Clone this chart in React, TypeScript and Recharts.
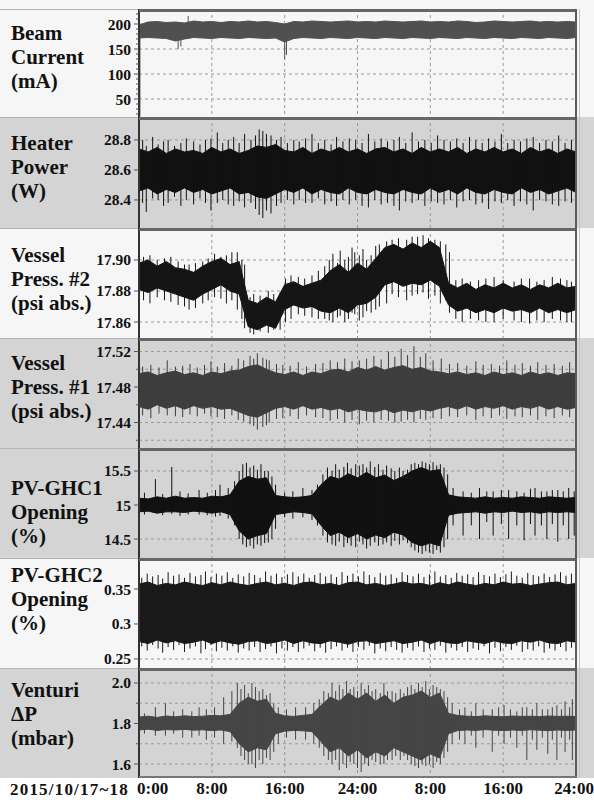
import React from 'react';
import { ComposedChart, Area, Line, XAxis, YAxis, CartesianGrid } from 'recharts';

const FONT = '"Liberation Serif", "Times New Roman", serif';
const LIGHT = '#f6f6f6';
const GRAY = '#d4d4d4';

// time axis (hours since 2015/10/17 0:00)
const hours = [
  0, 1, 2, 3, 4, 5, 6, 7, 8, 9, 10, 11, 12, 13, 14, 15, 16, 17, 18, 19, 20, 21, 22, 23, 24,
  25, 26, 27, 28, 29, 30, 31, 32, 33, 34, 35, 36, 37, 38, 39, 40, 41, 42, 43, 44, 45, 46, 47, 48,
];
const timeTicks = [0, 8, 16, 24, 32, 40, 48];
const timeLabels = ['0:00', '8:00', '16:00', '24:00', '8:00', '16:00', '24:00'];
const dateLabel = '2015/10/17~18';

// Beam current (mA)
const beamHi = [198, 204, 205, 203, 204, 202, 206, 204, 205, 203, 205, 204, 206, 204, 205, 203, 200, 205, 204, 206, 205, 204, 205, 206, 204, 205, 204, 206, 205, 204, 205, 206, 204, 205, 204, 206, 205, 203, 204, 206, 205, 204, 205, 206, 204, 205, 204, 205, 204];
const beamLo = [172, 173, 172, 171, 166, 170, 173, 172, 171, 173, 172, 171, 173, 172, 171, 172, 164, 171, 173, 172, 171, 173, 172, 171, 173, 172, 171, 173, 172, 171, 173, 172, 171, 173, 172, 171, 173, 172, 171, 173, 172, 171, 173, 172, 171, 173, 172, 171, 173];
const beamSpikes = [[0.1, 15, 188], [4.3, 150, 196], [4.6, 155, 190], [5.4, 176, 216], [16.0, 130, 196], [16.2, 138, 190]];
const beamTicks = [20, 30, 40, 50, 60, 70, 80, 90, 100, 110, 120, 130, 140, 150, 160, 170, 180, 190, 200, 210, 220];
const beamTickLabels = ['', '', '', '50', '', '', '', '', '100', '', '', '', '', '150', '', '', '', '', '200', '', ''];
const beamGrid = [50, 100, 150, 200];

// Heater power (W)
const heatHi = [28.74, 28.72, 28.75, 28.71, 28.74, 28.72, 28.73, 28.71, 28.75, 28.72, 28.74, 28.71, 28.73, 28.76, 28.75, 28.77, 28.73, 28.72, 28.75, 28.71, 28.74, 28.72, 28.75, 28.72, 28.74, 28.71, 28.74, 28.75, 28.72, 28.74, 28.71, 28.75, 28.72, 28.74, 28.72, 28.75, 28.71, 28.74, 28.72, 28.75, 28.72, 28.74, 28.71, 28.75, 28.72, 28.74, 28.71, 28.74, 28.72];
const heatLo = [28.46, 28.48, 28.44, 28.47, 28.45, 28.48, 28.45, 28.47, 28.44, 28.46, 28.48, 28.44, 28.45, 28.42, 28.41, 28.44, 28.47, 28.45, 28.48, 28.44, 28.47, 28.45, 28.44, 28.48, 28.45, 28.44, 28.47, 28.45, 28.44, 28.47, 28.45, 28.44, 28.48, 28.45, 28.47, 28.44, 28.48, 28.45, 28.44, 28.47, 28.45, 28.44, 28.48, 28.45, 28.47, 28.44, 28.46, 28.48, 28.45];
const heatSpikes = [
  [0.4, 28.38, 28.8], [0.8, 28.32, 28.76], [1.5, 28.41, 28.82], [2.1, 28.4, 28.77], [2.7, 28.36, 28.79],
  [3.2, 28.38, 28.8], [3.9, 28.42, 28.76], [4.6, 28.36, 28.78], [5.2, 28.4, 28.81], [6.0, 28.37, 28.79],
  [6.7, 28.41, 28.77], [7.3, 28.38, 28.8], [7.9, 28.33, 28.81], [8.6, 28.38, 28.85], [9.2, 28.4, 28.78],
  [9.8, 28.37, 28.8], [10.4, 28.36, 28.82], [11.0, 28.39, 28.78], [11.6, 28.35, 28.84], [12.3, 28.38, 28.8],
  [12.8, 28.34, 28.83], [13.2, 28.3, 28.87], [13.6, 28.28, 28.86], [14.0, 28.33, 28.84], [14.5, 28.31, 28.83],
  [15.1, 28.36, 28.8], [15.6, 28.38, 28.82], [16.3, 28.4, 28.78], [17.0, 28.37, 28.8], [17.6, 28.4, 28.79],
  [18.3, 28.38, 28.81], [19.0, 28.38, 28.84], [19.7, 28.41, 28.78], [20.4, 28.37, 28.8], [21.1, 28.39, 28.77],
  [21.7, 28.36, 28.82], [22.4, 28.4, 28.79], [23.1, 28.37, 28.81], [23.8, 28.4, 28.8], [24.5, 28.36, 28.78],
  [25.2, 28.35, 28.84], [25.9, 28.4, 28.79], [26.6, 28.37, 28.81], [27.3, 28.38, 28.79], [28.0, 28.36, 28.8],
  [28.6, 28.33, 28.82], [29.3, 28.39, 28.78], [30.0, 28.38, 28.85], [30.7, 28.4, 28.79], [31.4, 28.36, 28.8],
  [32.1, 28.39, 28.78], [32.8, 28.38, 28.83], [33.5, 28.37, 28.8], [34.2, 28.4, 28.79], [34.9, 28.35, 28.81],
  [35.6, 28.39, 28.78], [36.3, 28.4, 28.82], [37.0, 28.37, 28.8], [37.7, 28.38, 28.78], [38.4, 28.34, 28.81],
  [39.1, 28.39, 28.79], [39.8, 28.38, 28.84], [40.5, 28.4, 28.78], [41.2, 28.36, 28.8], [41.9, 28.39, 28.79],
  [42.6, 28.37, 28.81], [43.3, 28.33, 28.82], [44.0, 28.4, 28.78], [44.7, 28.39, 28.8], [45.4, 28.37, 28.79],
  [46.1, 28.36, 28.83], [46.8, 28.39, 28.78], [47.5, 28.38, 28.8],
];
const heatTicks = [28.4, 28.6, 28.8];
const heatTickLabels = ['28.4', '28.6', '28.8'];
const heatGrid = [28.4, 28.6, 28.8];

// Vessel pressure #2 (psi abs.)
const v2Hi = [17.898, 17.900, 17.896, 17.899, 17.895, 17.894, 17.892, 17.896, 17.899, 17.901, 17.897, 17.899, 17.874, 17.872, 17.876, 17.873, 17.884, 17.886, 17.883, 17.885, 17.887, 17.893, 17.897, 17.892, 17.898, 17.894, 17.901, 17.908, 17.91, 17.907, 17.911, 17.908, 17.912, 17.908, 17.885, 17.882, 17.885, 17.881, 17.884, 17.882, 17.885, 17.882, 17.884, 17.881, 17.884, 17.882, 17.885, 17.882, 17.883];
const v2Lo = [17.881, 17.879, 17.882, 17.88, 17.878, 17.876, 17.874, 17.878, 17.881, 17.884, 17.88, 17.878, 17.857, 17.855, 17.858, 17.856, 17.868, 17.871, 17.869, 17.87, 17.867, 17.866, 17.869, 17.866, 17.871, 17.872, 17.876, 17.884, 17.886, 17.883, 17.885, 17.884, 17.887, 17.883, 17.871, 17.867, 17.869, 17.866, 17.868, 17.866, 17.869, 17.867, 17.868, 17.866, 17.869, 17.866, 17.868, 17.866, 17.868];
const v2Spikes = [
  [0.5, 17.874, 17.902], [1.2, 17.872, 17.903], [2.0, 17.876, 17.9], [2.8, 17.874, 17.901], [3.5, 17.873, 17.902],
  [4.3, 17.871, 17.899], [5.0, 17.87, 17.897], [5.5, 17.868, 17.897], [6.2, 17.869, 17.898], [7.0, 17.872, 17.899],
  [7.6, 17.874, 17.901], [8.3, 17.876, 17.904], [9.0, 17.875, 17.902], [9.6, 17.872, 17.903], [10.2, 17.874, 17.905],
  [10.8, 17.868, 17.905], [11.3, 17.862, 17.9], [11.6, 17.856, 17.897], [12.2, 17.853, 17.876], [12.6, 17.852, 17.878],
  [13.3, 17.854, 17.877], [14.2, 17.853, 17.88], [14.8, 17.855, 17.878], [15.5, 17.855, 17.879], [16.1, 17.86, 17.888],
  [16.7, 17.862, 17.89], [17.5, 17.865, 17.889], [18.2, 17.864, 17.888], [19.0, 17.863, 17.89], [19.7, 17.862, 17.893],
  [20.4, 17.862, 17.896], [20.9, 17.861, 17.9], [21.3, 17.86, 17.904], [21.8, 17.863, 17.898], [22.1, 17.864, 17.906],
  [22.6, 17.86, 17.9], [23.0, 17.862, 17.902], [23.4, 17.866, 17.908], [23.7, 17.865, 17.905], [24.2, 17.861, 17.903],
  [24.6, 17.863, 17.907], [25.0, 17.867, 17.9], [25.5, 17.866, 17.903], [26.0, 17.868, 17.909], [26.4, 17.87, 17.91],
  [27.2, 17.872, 17.912], [27.8, 17.878, 17.913], [28.5, 17.876, 17.914], [29.4, 17.874, 17.913], [30.0, 17.877, 17.915],
  [30.6, 17.878, 17.915], [31.2, 17.879, 17.916], [31.8, 17.875, 17.914], [32.5, 17.877, 17.913], [33.1, 17.872, 17.912],
  [33.7, 17.874, 17.91], [34.1, 17.866, 17.905], [34.8, 17.862, 17.887], [35.5, 17.86, 17.888], [36.4, 17.862, 17.886],
  [37.3, 17.861, 17.887], [38.1, 17.86, 17.888], [39.0, 17.86, 17.889], [40.0, 17.862, 17.887], [41.2, 17.861, 17.886],
  [42.0, 17.86, 17.888], [42.9, 17.859, 17.888], [43.7, 17.861, 17.886], [44.5, 17.86, 17.887], [45.4, 17.862, 17.889],
  [46.3, 17.861, 17.888], [47.0, 17.86, 17.887], [47.5, 17.86, 17.886],
];
const v2Ticks = [17.86, 17.88, 17.9];
const v2TickLabels = ['17.86', '17.88', '17.90'];
const v2Grid = [17.86, 17.88, 17.9];

// Vessel pressure #1 (psi abs.)
const v1Hi = [17.495, 17.497, 17.493, 17.496, 17.498, 17.494, 17.496, 17.493, 17.497, 17.495, 17.498, 17.499, 17.503, 17.505, 17.5, 17.496, 17.494, 17.497, 17.493, 17.497, 17.495, 17.499, 17.5, 17.497, 17.502, 17.499, 17.503, 17.499, 17.502, 17.504, 17.5, 17.502, 17.498, 17.497, 17.495, 17.497, 17.494, 17.496, 17.493, 17.497, 17.494, 17.496, 17.493, 17.497, 17.494, 17.496, 17.493, 17.496, 17.495];
const v1Lo = [17.458, 17.455, 17.46, 17.456, 17.459, 17.455, 17.459, 17.456, 17.458, 17.455, 17.456, 17.452, 17.448, 17.446, 17.451, 17.456, 17.458, 17.455, 17.459, 17.455, 17.457, 17.454, 17.456, 17.452, 17.455, 17.453, 17.452, 17.455, 17.451, 17.454, 17.452, 17.455, 17.453, 17.456, 17.458, 17.455, 17.459, 17.455, 17.458, 17.456, 17.459, 17.455, 17.458, 17.456, 17.459, 17.455, 17.458, 17.455, 17.457];
const v1Spikes = [
  [0.4, 17.448, 17.503], [1.3, 17.445, 17.505], [2.2, 17.45, 17.502], [3.1, 17.448, 17.51], [4.0, 17.447, 17.503],
  [4.8, 17.446, 17.504], [5.6, 17.449, 17.506], [6.4, 17.447, 17.502], [7.2, 17.45, 17.505], [7.9, 17.447, 17.509],
  [8.6, 17.446, 17.503], [9.4, 17.444, 17.507], [10.2, 17.448, 17.504], [10.9, 17.443, 17.512], [11.5, 17.441, 17.51],
  [12.2, 17.438, 17.515], [12.6, 17.436, 17.512], [13.0, 17.432, 17.518], [13.6, 17.435, 17.513], [14.0, 17.437, 17.511],
  [14.3, 17.44, 17.51], [15.1, 17.444, 17.506], [15.8, 17.445, 17.505], [16.6, 17.447, 17.504], [17.5, 17.444, 17.508],
  [18.4, 17.448, 17.503], [19.4, 17.446, 17.506], [20.2, 17.445, 17.507], [21.0, 17.442, 17.51], [21.8, 17.444, 17.508],
  [22.6, 17.44, 17.512], [23.4, 17.443, 17.509], [24.2, 17.438, 17.51], [25.0, 17.442, 17.512], [25.8, 17.44, 17.515],
  [26.6, 17.443, 17.511], [27.4, 17.442, 17.52], [28.1, 17.44, 17.514], [28.8, 17.441, 17.523], [29.5, 17.443, 17.516],
  [30.2, 17.44, 17.526], [30.9, 17.444, 17.514], [31.5, 17.443, 17.518], [32.3, 17.445, 17.51], [33.2, 17.444, 17.512],
  [34.1, 17.447, 17.506], [35.0, 17.446, 17.507], [36.0, 17.448, 17.504], [37.0, 17.443, 17.509], [37.8, 17.447, 17.505],
  [38.7, 17.445, 17.506], [39.6, 17.448, 17.504], [40.4, 17.444, 17.51], [41.3, 17.447, 17.505], [42.1, 17.446, 17.507],
  [43.0, 17.448, 17.504], [43.8, 17.443, 17.508], [44.7, 17.447, 17.505], [45.6, 17.445, 17.506], [46.5, 17.448, 17.504],
  [47.3, 17.446, 17.508],
];
const v1Ticks = [17.42, 17.44, 17.46, 17.48, 17.5, 17.52];
const v1TickLabels = ['', '17.44', '', '17.48', '', '17.52'];
const v1Grid = [17.42, 17.44, 17.46, 17.48, 17.5, 17.52];

// PV-GHC1 opening (%)
const g1Hi = [15.1, 15.09, 15.12, 15.1, 15.13, 15.1, 15.11, 15.1, 15.13, 15.12, 15.15, 15.35, 15.42, 15.38, 15.4, 15.14, 15.12, 15.11, 15.12, 15.14, 15.3, 15.42, 15.38, 15.46, 15.4, 15.48, 15.4, 15.44, 15.36, 15.42, 15.5, 15.55, 15.5, 15.52, 15.15, 15.12, 15.11, 15.1, 15.12, 15.1, 15.11, 15.1, 15.12, 15.11, 15.1, 15.12, 15.11, 15.1, 15.11];
const g1Lo = [14.9, 14.91, 14.88, 14.9, 14.9, 14.89, 14.91, 14.9, 14.88, 14.9, 14.86, 14.62, 14.5, 14.55, 14.58, 14.86, 14.88, 14.9, 14.89, 14.87, 14.7, 14.55, 14.6, 14.52, 14.58, 14.5, 14.56, 14.52, 14.6, 14.56, 14.45, 14.4, 14.44, 14.4, 14.85, 14.88, 14.89, 14.9, 14.88, 14.9, 14.89, 14.91, 14.89, 14.9, 14.88, 14.9, 14.89, 14.9, 14.89];
const g1Spikes = [
  [0.6, 14.86, 15.18], [1.8, 14.88, 15.38], [2.6, 14.85, 15.16], [3.6, 14.87, 15.56], [4.5, 14.84, 15.2],
  [5.4, 14.86, 15.17], [6.6, 14.86, 15.22], [7.5, 14.85, 15.18], [8.4, 14.83, 15.22], [8.9, 14.84, 15.3],
  [9.8, 14.8, 15.25], [10.5, 14.7, 15.35], [11.0, 14.5, 15.5], [11.4, 14.42, 15.6], [11.8, 14.38, 15.62],
  [12.2, 14.4, 15.55], [12.6, 14.36, 15.58], [13.0, 14.42, 15.52], [13.4, 14.4, 15.6], [13.8, 14.44, 15.5],
  [14.2, 14.45, 15.5], [14.6, 14.5, 15.42], [15.0, 14.65, 15.3], [16.0, 14.82, 15.18], [16.9, 14.8, 15.2],
  [18.0, 14.82, 15.25], [19.0, 14.78, 15.22], [19.6, 14.7, 15.3], [20.2, 14.55, 15.45], [20.7, 14.45, 15.55],
  [21.2, 14.42, 15.5], [21.6, 14.4, 15.6], [22.0, 14.46, 15.52], [22.5, 14.38, 15.56], [22.9, 14.44, 15.62],
  [23.3, 14.4, 15.54], [23.8, 14.38, 15.6], [24.2, 14.46, 15.58], [24.6, 14.42, 15.6], [25.0, 14.36, 15.55],
  [25.4, 14.4, 15.64], [25.9, 14.45, 15.56], [26.3, 14.4, 15.6], [26.8, 14.42, 15.52], [27.2, 14.45, 15.58],
  [27.7, 14.4, 15.54], [28.1, 14.47, 15.5], [28.6, 14.42, 15.55], [29.0, 14.48, 15.5], [29.5, 14.44, 15.52],
  [29.9, 14.38, 15.6], [30.3, 14.33, 15.62], [30.7, 14.3, 15.6], [31.1, 14.28, 15.64], [31.5, 14.32, 15.62],
  [31.9, 14.3, 15.6], [32.3, 14.28, 15.63], [32.7, 14.34, 15.58], [33.1, 14.3, 15.6], [33.5, 14.38, 15.55],
  [33.9, 14.5, 15.45], [34.5, 14.7, 15.25], [35.6, 14.55, 15.2], [36.5, 14.7, 15.18], [37.4, 14.5, 15.25],
  [38.2, 14.75, 15.2], [38.9, 14.55, 15.2], [39.8, 14.72, 15.22], [40.6, 14.5, 15.22], [41.5, 14.7, 15.2],
  [42.3, 14.48, 15.18], [43.0, 14.72, 15.24], [43.5, 14.55, 15.25], [44.2, 14.7, 15.2], [44.8, 14.5, 15.2],
  [45.4, 14.72, 15.22], [46.0, 14.46, 15.22], [46.6, 14.7, 15.2], [47.2, 14.5, 15.25], [47.8, 14.55, 15.2],
];
const g1Ticks = [14.5, 15, 15.5];
const g1TickLabels = ['14.5', '15', '15.5'];
const g1Grid = [14.5, 15, 15.5];

// PV-GHC2 opening (%)
const g2Hi = [0.357, 0.36, 0.355, 0.358, 0.356, 0.36, 0.357, 0.355, 0.359, 0.356, 0.36, 0.357, 0.355, 0.358, 0.36, 0.356, 0.358, 0.355, 0.359, 0.36, 0.356, 0.358, 0.355, 0.359, 0.36, 0.356, 0.358, 0.355, 0.357, 0.36, 0.357, 0.358, 0.355, 0.359, 0.356, 0.36, 0.357, 0.355, 0.358, 0.356, 0.36, 0.357, 0.358, 0.355, 0.357, 0.359, 0.36, 0.356, 0.358];
const g2Lo = [0.275, 0.272, 0.277, 0.273, 0.276, 0.272, 0.274, 0.277, 0.272, 0.276, 0.273, 0.271, 0.275, 0.276, 0.272, 0.274, 0.277, 0.272, 0.276, 0.273, 0.272, 0.276, 0.274, 0.271, 0.275, 0.276, 0.272, 0.274, 0.276, 0.272, 0.274, 0.277, 0.272, 0.276, 0.273, 0.272, 0.276, 0.274, 0.272, 0.276, 0.273, 0.272, 0.276, 0.274, 0.277, 0.273, 0.272, 0.276, 0.274];
const g2Spikes = [
  [0.3, 0.268, 0.366], [0.9, 0.262, 0.372], [1.5, 0.27, 0.368], [2.1, 0.265, 0.37], [2.6, 0.259, 0.365],
  [3.2, 0.267, 0.374], [3.8, 0.263, 0.369], [4.4, 0.27, 0.371], [5.0, 0.26, 0.366], [5.6, 0.265, 0.373],
  [6.2, 0.268, 0.368], [6.8, 0.258, 0.37], [7.3, 0.264, 0.375], [7.9, 0.27, 0.367], [8.5, 0.261, 0.372],
  [9.1, 0.266, 0.369], [9.7, 0.262, 0.374], [10.3, 0.268, 0.366], [10.9, 0.259, 0.371], [11.5, 0.265, 0.368],
  [12.1, 0.262, 0.373], [12.7, 0.267, 0.37], [13.3, 0.26, 0.366], [13.9, 0.264, 0.375], [14.5, 0.268, 0.369],
  [15.1, 0.258, 0.372], [15.7, 0.265, 0.367], [16.3, 0.262, 0.371], [16.9, 0.267, 0.374], [17.5, 0.26, 0.368],
  [18.1, 0.265, 0.372], [18.7, 0.269, 0.366], [19.3, 0.261, 0.37], [19.9, 0.266, 0.373], [20.5, 0.259, 0.368],
  [21.1, 0.264, 0.371], [21.7, 0.268, 0.367], [22.3, 0.262, 0.374], [22.9, 0.266, 0.369], [23.5, 0.26, 0.372],
  [24.1, 0.267, 0.368], [24.7, 0.263, 0.375], [25.3, 0.269, 0.37], [25.9, 0.258, 0.367], [26.5, 0.265, 0.373],
  [27.1, 0.261, 0.369], [27.7, 0.267, 0.371], [28.3, 0.263, 0.366], [28.9, 0.259, 0.374], [29.5, 0.266, 0.37],
  [30.1, 0.262, 0.368], [30.7, 0.268, 0.372], [31.3, 0.26, 0.367], [31.9, 0.265, 0.371], [32.5, 0.263, 0.375],
  [33.1, 0.269, 0.368], [33.7, 0.259, 0.37], [34.3, 0.266, 0.366], [34.9, 0.262, 0.373], [35.5, 0.267, 0.369],
  [36.1, 0.26, 0.371], [36.7, 0.265, 0.367], [37.3, 0.263, 0.374], [37.9, 0.268, 0.37], [38.5, 0.258, 0.368],
  [39.1, 0.266, 0.372], [39.7, 0.261, 0.367], [40.3, 0.267, 0.371], [40.9, 0.263, 0.375], [41.5, 0.269, 0.369],
  [42.1, 0.26, 0.366], [42.7, 0.264, 0.373], [43.3, 0.262, 0.37], [43.9, 0.268, 0.368], [44.5, 0.259, 0.372],
  [45.1, 0.265, 0.367], [45.7, 0.262, 0.371], [46.3, 0.267, 0.374], [46.9, 0.261, 0.369], [47.5, 0.266, 0.372],
];
const g2Ticks = [0.25, 0.3, 0.35];
const g2TickLabels = ['0.25', '0.3', '0.35'];
const g2Grid = [0.25, 0.3, 0.35];

// Venturi dP (mbar)
const vtHi = [1.832, 1.836, 1.83, 1.837, 1.833, 1.838, 1.834, 1.836, 1.84, 1.838, 1.845, 1.9, 1.93, 1.91, 1.92, 1.85, 1.838, 1.835, 1.84, 1.845, 1.89, 1.93, 1.91, 1.95, 1.92, 1.95, 1.91, 1.94, 1.9, 1.93, 1.94, 1.96, 1.93, 1.95, 1.85, 1.84, 1.836, 1.834, 1.838, 1.835, 1.833, 1.837, 1.835, 1.836, 1.834, 1.837, 1.835, 1.836, 1.834];
const vtLo = [1.768, 1.772, 1.766, 1.77, 1.768, 1.771, 1.767, 1.769, 1.765, 1.768, 1.76, 1.7, 1.66, 1.68, 1.67, 1.75, 1.762, 1.766, 1.764, 1.76, 1.71, 1.66, 1.68, 1.64, 1.67, 1.63, 1.66, 1.64, 1.68, 1.66, 1.64, 1.62, 1.65, 1.63, 1.75, 1.765, 1.768, 1.766, 1.77, 1.767, 1.765, 1.768, 1.766, 1.769, 1.767, 1.765, 1.768, 1.766, 1.768];
const vtSpikes = [
  [0.6, 1.75, 1.85], [1.8, 1.74, 1.88], [2.9, 1.74, 1.9], [3.8, 1.75, 1.86], [4.8, 1.73, 1.87],
  [5.8, 1.73, 1.86], [6.6, 1.74, 1.88], [7.4, 1.72, 1.87], [8.3, 1.73, 1.88], [9.3, 1.7, 1.93],
  [10.2, 1.71, 1.96], [10.8, 1.68, 2.0], [11.2, 1.64, 1.97], [11.6, 1.62, 1.99], [12.0, 1.6, 1.95],
  [12.4, 1.6, 2.0], [12.8, 1.58, 1.98], [13.2, 1.62, 1.96], [13.6, 1.6, 1.97], [14.0, 1.63, 1.94],
  [14.4, 1.62, 1.95], [14.8, 1.66, 1.9], [15.3, 1.7, 1.88], [16.2, 1.73, 1.87], [17.2, 1.72, 1.88],
  [18.3, 1.72, 1.88], [19.2, 1.7, 1.9], [19.8, 1.68, 1.92], [20.3, 1.64, 1.96], [20.8, 1.62, 1.95],
  [21.2, 1.6, 2.0], [21.6, 1.62, 1.96], [22.0, 1.57, 1.99], [22.4, 1.6, 1.97], [22.8, 1.58, 2.01],
  [23.2, 1.61, 1.97], [23.6, 1.6, 1.98], [24.0, 1.58, 1.96], [24.4, 1.56, 2.0], [24.8, 1.6, 1.97],
  [25.2, 1.59, 1.99], [25.6, 1.62, 1.96], [26.0, 1.61, 1.97], [26.5, 1.6, 1.95], [26.9, 1.6, 2.0],
  [27.3, 1.62, 1.96], [27.8, 1.62, 1.96], [28.2, 1.64, 1.95], [28.7, 1.62, 1.97], [29.1, 1.64, 1.95],
  [29.5, 1.62, 1.98], [29.9, 1.6, 1.99], [30.3, 1.59, 1.97], [30.7, 1.58, 2.0], [31.1, 1.6, 1.98],
  [31.5, 1.59, 2.01], [31.9, 1.6, 1.97], [32.3, 1.58, 1.99], [32.7, 1.61, 1.98], [33.1, 1.6, 1.97],
  [33.5, 1.63, 1.96], [33.9, 1.66, 1.93], [34.4, 1.7, 1.9], [35.2, 1.72, 1.87], [35.8, 1.7, 1.88],
  [36.5, 1.74, 1.86], [37.0, 1.68, 1.9], [37.8, 1.73, 1.87], [38.8, 1.66, 1.87], [39.5, 1.74, 1.88],
  [40.1, 1.7, 1.89], [40.8, 1.73, 1.87], [41.5, 1.68, 1.86], [42.1, 1.74, 1.88], [42.6, 1.62, 1.88],
  [43.2, 1.72, 1.87], [43.7, 1.67, 1.9], [44.3, 1.73, 1.87], [44.9, 1.65, 1.87], [45.4, 1.72, 1.88],
  [45.9, 1.62, 1.89], [46.4, 1.73, 1.87], [46.8, 1.66, 1.91], [47.3, 1.72, 1.88], [47.6, 1.62, 1.92],
];
const vtTicks = [1.6, 1.7, 1.8, 1.9, 2.0];
const vtTickLabels = ['1.6', '', '1.8', '', '2.0'];
const vtGrid = [1.6, 1.7, 1.8, 1.9, 2.0];

const panels = [
  { lines: ['Beam', 'Current', '(mA)'], top: 9, height: 108, labelTop: 12, bg: LIGHT, color: '#505050',
    domain: [14, 230], ticks: beamTicks, tickLabels: beamTickLabels, grid: beamGrid, hi: beamHi, lo: beamLo, spikes: beamSpikes },
  { lines: ['Heater', 'Power', '(W)'], top: 117, height: 111, labelTop: 14, bg: GRAY, color: '#111',
    domain: [28.213, 28.953], ticks: heatTicks, tickLabels: heatTickLabels, grid: heatGrid, hi: heatHi, lo: heatLo, spikes: heatSpikes },
  { lines: ['Vessel', 'Press. #2', '(psi abs.)'], top: 228, height: 110, labelTop: 15, bg: LIGHT, color: '#151515',
    domain: [17.8497, 17.9206], ticks: v2Ticks, tickLabels: v2TickLabels, grid: v2Grid, hi: v2Hi, lo: v2Lo, spikes: v2Spikes },
  { lines: ['Vessel', 'Press. #1', '(psi abs.)'], top: 338, height: 110, labelTop: 13, bg: GRAY, color: '#3e3e3e',
    domain: [17.4113, 17.5352], ticks: v1Ticks, tickLabels: v1TickLabels, grid: v1Grid, hi: v1Hi, lo: v1Lo, spikes: v1Spikes },
  { lines: ['PV-GHC1', 'Opening', '(%)'], top: 448, height: 110, labelTop: 28, bg: GRAY, color: '#111',
    domain: [14.221, 15.838], ticks: g1Ticks, tickLabels: g1TickLabels, grid: g1Grid, hi: g1Hi, lo: g1Lo, spikes: g1Spikes },
  { lines: ['PV-GHC2', 'Opening', '(%)'], top: 558, height: 110, labelTop: 5, bg: LIGHT, color: '#1a1a1a',
    domain: [0.2371, 0.3943], ticks: g2Ticks, tickLabels: g2TickLabels, grid: g2Grid, hi: g2Hi, lo: g2Lo, spikes: g2Spikes },
  { lines: ['Venturi', '\u0394P', '(mbar)'], top: 668, height: 110, labelTop: 10, bg: GRAY, color: '#454545',
    domain: [1.531, 2.074], ticks: vtTicks, tickLabels: vtTickLabels, grid: vtGrid, hi: vtHi, lo: vtLo, spikes: vtSpikes },
];

const TimeTick = (props: any) => {
  const { x, y, payload } = props;
  const i = timeTicks.indexOf(payload.value);
  const last = i === timeTicks.length - 1;
  return (
    <text x={i === 0 ? x - 2 : last ? 594 : x} y={y + 14}
      textAnchor={i === 0 ? 'start' : last ? 'end' : 'middle'}
      fontFamily={FONT} fontWeight={700} fontSize={17} fill="#111">
      {timeLabels[i]}
    </text>
  );
};

// value tick: long mark + label for major ticks, short mark for minor ones
const ValueTick = (props: any) => {
  const { x, y, payload, ticks, labels } = props;
  const label = labels[ticks.indexOf(payload.value)];
  const ax = x + 8;
  return (
    <g>
      <line x1={label ? ax - 5 : ax - 3} y1={y} x2={ax} y2={y} stroke="#555" strokeWidth={1} />
      {label ? (
        <text x={x} y={y} dy="0.355em" textAnchor="end" fontFamily={FONT} fontWeight={700}
          fontSize={15.5} fill="#111">{label}</text>
      ) : null}
    </g>
  );
};

function Panel({ p, last }: { p: any; last: boolean }) {
  const band = hours.map((t, i) => ({ t, band: [p.lo[i], p.hi[i]] }));
  const spikeRows = p.spikes.flatMap(([t, lo, hi]: number[]) => [
    { t, v: lo }, { t, v: hi }, { t, v: null },
  ]);
  const axisH = last ? 22 : 0;
  return (
    <div style={{ position: 'absolute', left: 0, top: p.top, width: 594, height: p.height, background: p.bg }}>
      <div style={{ position: 'absolute', left: 0, top: 0, width: 139, height: 1, background: '#b4b4b4' }} />
      <div style={{ position: 'absolute', left: 11, top: p.labelTop, fontFamily: FONT, fontWeight: 700,
        fontSize: 21, lineHeight: '24px', color: '#111', whiteSpace: 'nowrap' }}>
        {p.lines.map((l: string) => <div key={l}>{l}</div>)}
      </div>
      <div style={{ position: 'absolute', left: 0, top: 0 }}>
        <ComposedChart width={594} height={p.height + axisH} data={band}
          margin={{ top: 0, right: 18, bottom: 0, left: 0 }}>
          <CartesianGrid stroke="#9a9a9a" strokeDasharray="3 3" horizontalValues={p.grid} />
          <XAxis type="number" dataKey="t" domain={[0, 48]} ticks={timeTicks} allowDataOverflow
            hide={!last} height={22} axisLine={false} tickLine={false} tickSize={0} interval={0}
            tick={<TimeTick />} />
          <YAxis type="number" domain={p.domain} ticks={p.ticks} allowDataOverflow interval={0}
            width={139} tickSize={5} tickMargin={3}
            axisLine={{ stroke: '#333', strokeWidth: 2 }} tickLine={false}
            tick={<ValueTick ticks={p.ticks} labels={p.tickLabels} />} />
          <Area type="linear" dataKey="band" stroke={p.color} strokeWidth={1} fill={p.color}
            fillOpacity={1} dot={false} activeDot={false} isAnimationActive={false} />
          <Line data={spikeRows} type="linear" dataKey="v" stroke={p.color} strokeWidth={1}
            dot={false} activeDot={false} connectNulls={false} isAnimationActive={false} />
        </ComposedChart>
      </div>
      <div style={{ position: 'absolute', left: 139, top: 0, width: 438, height: 3, background: '#666' }} />
      <div style={{ position: 'absolute', left: 575, top: 0, width: 2, height: p.height, background: '#5a5a5a' }} />
      <div style={{ position: 'absolute', left: 579, top: 0, width: 1, height: p.height, background: '#c4c4c4' }} />
      {last && (
        <div style={{ position: 'absolute', left: 139, top: p.height - 2, width: 438, height: 2, background: '#777' }} />
      )}
    </div>
  );
}

export default function App() {
  return (
    <div style={{ position: 'absolute', left: 0, top: 0, width: 594, height: 800, background: '#fff', overflow: 'hidden' }}>
      <div style={{ position: 'absolute', left: 0, top: 0, width: 594, height: 9, background: LIGHT }} />
      {panels.map((p, i) => (
        <Panel key={i} p={p} last={i === panels.length - 1} />
      ))}
      <div style={{ position: 'absolute', left: 10, top: 780, fontFamily: FONT, fontWeight: 700, fontSize: 17,
        lineHeight: '20px', letterSpacing: 1.2, color: '#111', whiteSpace: 'nowrap' }}>
        {dateLabel}
      </div>
    </div>
  );
}
